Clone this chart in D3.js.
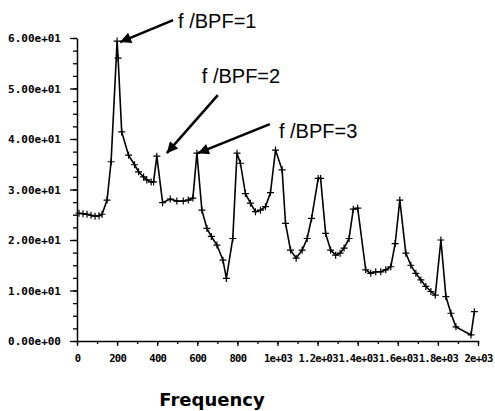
<!DOCTYPE html>
<html>
<head>
<meta charset="utf-8">
<script src="https://cdn.jsdelivr.net/npm/d3@7"></script>
<style>
  body { margin: 0; background: #fff; }
  .tick text { font-family: "DejaVu Sans Mono", monospace; font-weight: bold; font-size: 11px; }
  .xax .tick text { font-size: 10.5px; letter-spacing: -0.7px; }
</style>
</head>
<body>
<div id="chart"></div>
<script>
// spectrum readings (Hz, amplitude)
const freq = [10, 30, 50, 70, 90, 110, 125, 150, 170, 200, 205, 223, 257, 287, 307, 332, 348, 370, 382, 398,
    427, 465, 498, 530, 555, 578, 598, 623, 648, 670, 698, 728, 745, 777, 798, 815, 840, 865, 890, 915, 940, 965,
    990, 1023, 1040, 1065, 1093, 1123, 1148, 1170, 1203, 1215, 1240, 1265, 1290, 1312, 1332, 1357, 1378, 1400,
    1440, 1465, 1490, 1515, 1540, 1565, 1587, 1610, 1640, 1665, 1690, 1715, 1740, 1765, 1787, 1815, 1840, 1865,
    1890, 1965, 1982];
const amp = [25.3, 25.2, 25.1, 24.9, 24.7, 24.8, 25.1, 27.9, 35.5, 59.4, 56.0, 41.4, 36.8, 34.9, 33.5, 32.5, 31.9, 31.5, 31.5, 36.6,
    27.4, 28.1, 27.7, 27.7, 27.9, 28.3, 37.2, 25.9, 22.3, 20.7, 19.0, 16.0, 12.4, 20.3, 37.2, 35.2, 29.2, 27.3, 25.6, 25.9, 26.6, 29.4,
    37.8, 33.9, 23.3, 18.0, 16.4, 18.0, 20.3, 24.3, 32.2, 32.2, 21.3, 18.0, 17.0, 17.4, 18.4, 20.3, 26.1, 26.3,
    14.1, 13.4, 13.7, 13.7, 14.1, 14.7, 19.3, 27.9, 17.4, 15.0, 13.4, 12.1, 10.8, 9.8, 9.1, 20.0, 8.8, 5.5,
    2.8, 1.2, 5.8];

const yTicks = [0, 10, 20, 30, 40, 50, 60];
const yLabels = ["0.00e+00", "1.00e+01", "2.00e+01", "3.00e+01", "4.00e+01", "5.00e+01", "6.00e+01"];
const xTicks = [0, 200, 400, 600, 800, 1000, 1200, 1400, 1600, 1800, 2000];
const xLabels = ["0", "200", "400", "600", "800", "1e+03", "1.2e+03", "1.4e+03", "1.6e+03", "1.8e+03", "2e+03"];

const bpf = 200;
const harmonics = [1, 2, 3];

const width = 495, height = 411;
const margin = { left: 77, right: 17, top: 38, bottom: 70 };

const svg = d3.select("#chart").append("svg")
    .attr("width", width)
    .attr("height", height)
    .style("background", "#fff");

const x = d3.scaleLinear().domain([0, 2000]).range([margin.left, width - margin.right]);
const y = d3.scaleLinear().domain([0, 60]).range([height - margin.bottom, margin.top]);

// minor ticks first
svg.append("g")
    .attr("transform", `translate(0,${y(0)})`)
    .call(d3.axisBottom(x).tickValues(d3.range(0, 2001, 100)).tickSize(3).tickFormat(""))
    .call(g => g.select(".domain").remove());
svg.append("g")
    .attr("transform", `translate(${x(0)},0)`)
    .call(d3.axisLeft(y).tickValues(d3.range(0, 60.1, 2.5)).tickSize(4).tickFormat(""))
    .call(g => g.select(".domain").remove());

// major axes
svg.append("g")
    .attr("class", "xax")
    .attr("transform", `translate(0,${y(0)})`)
    .call(d3.axisBottom(x).tickValues(xTicks).tickSize(5).tickPadding(9).tickSizeOuter(0)
        .tickFormat((d, i) => xLabels[i]))
    .call(g => g.select(".domain").attr("stroke-width", 1.5));
svg.append("g")
    .attr("transform", `translate(${x(0)},0)`)
    .call(d3.axisLeft(y).tickValues(yTicks).tickSize(7).tickPadding(9).tickSizeOuter(0)
        .tickFormat((d, i) => yLabels[i]))
    .call(g => g.select(".domain").attr("stroke-width", 1.5));

svg.selectAll(".tick line").attr("stroke", "#000").attr("stroke-width", 1.3);

// x axis title
svg.append("text")
    .attr("x", 212)
    .attr("y", 406)
    .attr("text-anchor", "middle")
    .style("font-family", "DejaVu Sans")
    .style("font-weight", "bold")
    .style("font-size", "18px")
    .text("Frequency");

// spectrum line
const pts = freq.map((f, i) => [f, amp[i]]);
const line = d3.line().x(d => x(d[0])).y(d => y(d[1]));

svg.append("path")
    .datum(pts)
    .attr("d", line)
    .attr("fill", "none")
    .attr("stroke", "#000")
    .attr("stroke-width", 1.6);

// plus markers
svg.append("g").selectAll("path")
    .data(pts)
    .join("path")
    .attr("d", d => `M${x(d[0]) - 3.5},${y(d[1])}h7M${x(d[0])},${y(d[1]) - 3.5}v7`)
    .attr("stroke", "#000")
    .attr("stroke-width", 1.2);

// arrows pointing at harmonics
svg.append("defs").append("marker")
    .attr("id", "head")
    .attr("viewBox", "0 0 10 10")
    .attr("refX", 10).attr("refY", 5)
    .attr("markerWidth", 17).attr("markerHeight", 11)
    .attr("markerUnits", "userSpaceOnUse")
    .attr("orient", "auto")
    .append("path")
    .attr("d", "M0,0L10,5L0,10z")
    .attr("fill", "#000");

// offsets from the peak point: tip, tail, label
const annoLayout = [
    { tip: [3, 1], tail: [56, -21], text: [61, -13] },
    { tip: [10, -3], tail: [61, -61], text: [45, -73] },
    { tip: [1, 0], tail: [73, -29], text: [82, -15] }
];

harmonics.forEach((n, i) => {
    // locate the peak nearest the harmonic
    const near = pts.filter(p => Math.abs(p[0] - n * bpf) < 30);
    const peak = near.reduce((a, b) => (b[1] > a[1] ? b : a));
    const px = x(peak[0]), py = y(peak[1]);
    const l = annoLayout[i];
    svg.append("line")
        .attr("x1", px + l.tail[0]).attr("y1", py + l.tail[1])
        .attr("x2", px + l.tip[0]).attr("y2", py + l.tip[1])
        .attr("stroke", "#000")
        .attr("stroke-width", 2.5)
        .attr("marker-end", "url(#head)");
    svg.append("text")
        .attr("x", px + l.text[0])
        .attr("y", py + l.text[1])
        .style("font-family", "'Liberation Sans Narrow', 'Liberation Sans', sans-serif")
        .style("font-size", "20px")
        .text(`f /BPF=${n}`);
});
</script>
</body>
</html>
